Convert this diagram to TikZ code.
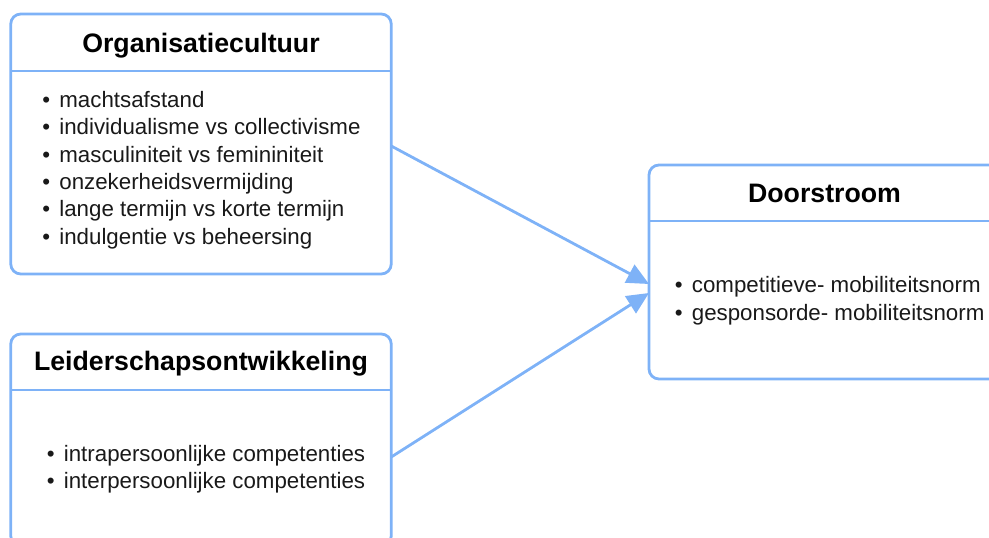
\documentclass[tikz,border=0pt]{standalone}
\usepackage{fontspec}
\setmainfont{Liberation Sans}
\usepackage{xcolor}
\definecolor{colorFrame}{HTML}{7EB2F7}
\colorlet{colorText}{black!90}
\usetikzlibrary{arrows.meta, calc}
\newcommand{\bul}[1]{\makebox[17pt][l]{\textbullet}#1}
\tikzset{
  boxframe/.style={draw=colorFrame, line width=2.8pt, rounded corners=10pt, inner sep=0pt, outer sep=0pt},
  boxtitle/.style={font=\bfseries\fontsize{26.7}{32}\selectfont, anchor=base, inner sep=0pt},
  boxitems/.style={font=\fontsize{22.3}{27.3}\selectfont, align=left, anchor=west, inner sep=0pt, text=colorText},
}

\begin{document}
\begin{tikzpicture}[x=1pt, y=-1pt, >={Triangle[length=22pt,width=20pt]}, line width=2.8pt]
\clip (0,0) rectangle (989,538);
% boxes
\node[boxframe, minimum width=380.5pt, minimum height=260pt] (org) at (201,144) {};
\node[boxframe, minimum width=380.5pt, minimum height=212pt] (lead) at (201,440) {};
\node[boxframe, minimum width=351pt, minimum height=214pt] (door) at (824.5,272) {};
\draw[colorFrame] ($(org.north west)+(0,57)$) -- ($(org.north east)+(0,57)$);
\draw[colorFrame] ($(lead.north west)+(0,56)$) -- ($(lead.north east)+(0,56)$);
\draw[colorFrame] ($(door.north west)+(0,56)$) -- ($(door.north east)+(0,56)$);
% titles
\node[boxtitle] (orgtitle) at (201,52.3) {Organisatiecultuur};
\node[boxtitle] (leadtitle) at (201,370) {Leiderschapsontwikkeling};
\node[boxtitle] (doortitle) at (824.5,202.3) {Doorstroom};
% lists
\node[boxitems] (orgitems) at (41,170) {\bul{machtsafstand}\\\bul{individualisme vs collectivisme}\\\bul{masculiniteit vs femininiteit}\\\bul{onzekerheidsvermijding}\\\bul{lange termijn vs korte termijn}\\\bul{indulgentie vs beheersing}};
\node[boxitems] (leaditems) at (45.5,469) {\bul{intrapersoonlijke competenties}\\\bul{interpersoonlijke competenties}};
\node[boxitems] (dooritems) at (673.5,300.7) {\bul{competitieve- mobiliteitsnorm}\\\bul{gesponsorde- mobiliteitsnorm}};
% arrows
\draw[->, colorFrame] ([yshift=-2pt]org.east) -- ([yshift=-12pt]door.west);
\draw[->, colorFrame] ([yshift=-17pt]lead.east) -- ([yshift=-21pt]door.west);
\end{tikzpicture}
\end{document}
